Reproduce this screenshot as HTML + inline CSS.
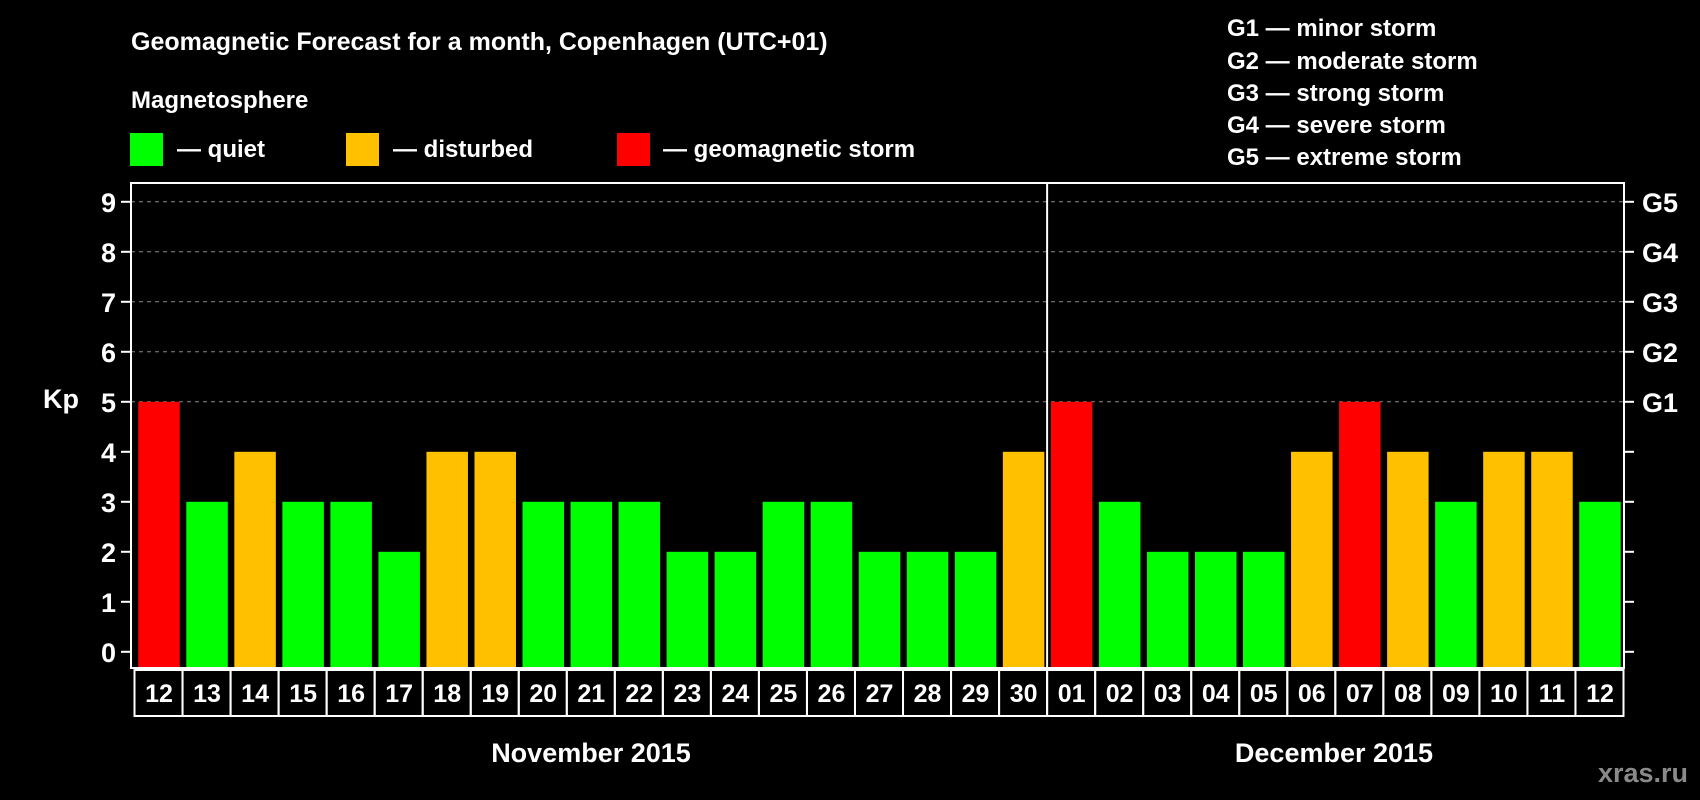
<!DOCTYPE html>
<html><head><meta charset="utf-8"><style>
html,body{margin:0;padding:0;background:#000;}
svg{display:block;font-family:"Liberation Sans",Arial,sans-serif;font-weight:bold;}
</style></head><body>
<svg id="chart" width="1700" height="800" viewBox="0 0 1700 800">
<text x="131" y="50" fill="#fff" font-size="25">Geomagnetic Forecast for a month, Copenhagen (UTC+01)</text>
<text x="131" y="108" fill="#fff" font-size="24">Magnetosphere</text>
<rect x="130" y="133" width="33" height="33" fill="#00ff00"/>
<text x="177" y="157" fill="#fff" font-size="24">— quiet</text>
<rect x="346" y="133" width="33" height="33" fill="#ffc000"/>
<text x="393" y="157" fill="#fff" font-size="24">— disturbed</text>
<rect x="617" y="133" width="33" height="33" fill="#ff0000"/>
<text x="663" y="157" fill="#fff" font-size="24">— geomagnetic storm</text>
<g fill="#fff" font-size="24">
<text x="1227" y="36">G1 — minor storm</text>
<text x="1227" y="69">G2 — moderate storm</text>
<text x="1227" y="101">G3 — strong storm</text>
<text x="1227" y="133">G4 — severe storm</text>
<text x="1227" y="165">G5 — extreme storm</text>
</g>
<text x="43" y="408" fill="#fff" font-size="27">Kp</text>
<text x="591" y="762" fill="#fff" font-size="27" text-anchor="middle">November 2015</text>
<text x="1334" y="762" fill="#fff" font-size="27" text-anchor="middle">December 2015</text>
<text x="1688" y="782" fill="#8a8a8a" font-size="27" text-anchor="end">xras.ru</text>
<g id="plot"></g>
</svg>
<script>
const days = ["12","13","14","15","16","17","18","19","20","21","22","23","24","25","26","27","28","29","30","01","02","03","04","05","06","07","08","09","10","11","12"];
const kpValues = [5,3,4,3,3,2,4,4,3,3,3,2,2,3,3,2,2,2,4,5,3,2,2,2,4,5,4,3,4,4,3];
const yTicks = [0,1,2,3,4,5,6,7,8,9];
const gLabels = ["","","","","","G1","G2","G3","G4","G5"];
const monthSplitIndex = 19;

const NS="http://www.w3.org/2000/svg";
const g=document.getElementById('plot');
const L=131,R=1624,T=183,B=668;
const y0=651.8, unit=50.0;
const yS=v=>y0-v*unit;
const step=(R-L-4)/days.length;
const xS=i=>L+4+i*step;
const bw=41.5;
function mk(t,a){const e=document.createElementNS(NS,t);for(const k in a)e.setAttribute(k,a[k]);g.appendChild(e);return e;}
function color(v){return v>=5?"#ff0000":(v>=4?"#ffc000":"#00ff00");}

yTicks.forEach((v,i)=>{
  if(v>=5){const l=mk('line',{x1:L,x2:R,y1:yS(v),y2:yS(v),stroke:'#888','stroke-dasharray':'4,4','stroke-width':1});
  
  }
  const t1=mk('line',{x1:L-10,x2:L,y1:yS(v),y2:yS(v),stroke:'#fff','stroke-width':2});
  
  
  const t2=mk('line',{x1:R,x2:R+10,y1:yS(v),y2:yS(v),stroke:'#fff','stroke-width':2});
  
  
  const tx=mk('text',{x:L-15,y:yS(v)+10,fill:'#fff','font-size':27,'text-anchor':'end'});
  tx.textContent=v;
  
  
  if(gLabels[i]){const gt=mk('text',{x:R+18,y:yS(v)+10,fill:'#fff','font-size':27});
  gt.textContent=gLabels[i];
  
  }
});

kpValues.forEach((v,i)=>{
  const cx=xS(i)+step/2;
  const r=mk('rect',{x:cx-bw/2,y:yS(v),width:bw,height:B-1-yS(v),fill:color(v)});
  
  
  const c=mk('rect',{x:xS(i)-0.5,y:B+2,width:step,height:46,fill:'none',stroke:'#fff','stroke-width':2});
  
  
  const t=mk('text',{x:cx,y:B+34,fill:'#fff','font-size':25,'text-anchor':'middle'});
  t.textContent=days[i];
  
  
});

const frame=mk('rect',{x:L,y:T,width:R-L,height:B-T,fill:'none',stroke:'#fff','stroke-width':2});


const dx=xS(monthSplitIndex)-0.5;
const div=mk('line',{x1:dx,x2:dx,y1:T,y2:B,stroke:'#fff','stroke-width':2});


</script>
</body></html>
